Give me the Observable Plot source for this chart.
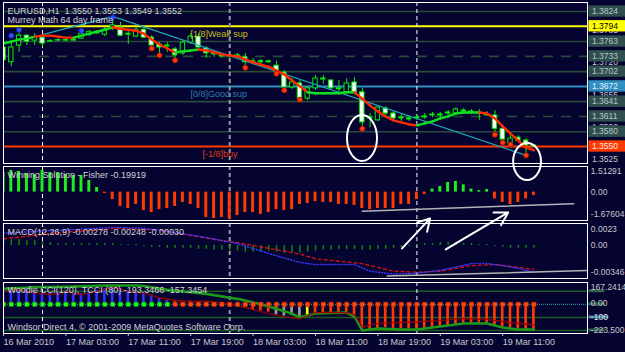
<!DOCTYPE html>
<html><head><meta charset="utf-8">
<script src="https://cdn.jsdelivr.net/npm/d3@7"></script>
<script src="https://cdn.jsdelivr.net/npm/@observablehq/plot@0.6"></script>
<style>
html,body{margin:0;padding:0;background:#050330;}
#chart{position:relative;width:625px;height:352px;background:#050330;overflow:hidden;}
</style></head><body><div id="chart"></div>
<script>
// ---------- DATA ----------
const timeTickIdx = [0,8,16,24,32,40,48,56,64];
const timeLabels = ["16 Mar 2010","17 Mar 03:00","17 Mar 11:00","17 Mar 19:00","18 Mar 03:00","18 Mar 11:00","18 Mar 19:00","19 Mar 03:00","19 Mar 11:00"];

const open = [1.3751,1.3721,1.3755,1.3775,1.3765,1.3771,1.3763,1.3765,1.3766,1.3765,
1.3769,1.3777,1.3783,1.3777,1.3789,1.3792,1.3777,1.3773,1.3787,1.3771,
1.3757,1.3753,1.3747,1.3739,1.3761,1.3773,1.3749,1.3739,1.3735,1.3733,
1.3735,1.3731,1.3721,1.3723,1.3721,1.3714,1.3700,1.3670,1.3678,1.3647,
1.3668,1.3688,1.3684,1.3668,1.3660,1.3680,1.3660,1.3609,1.3603,1.3627,
1.3617,1.3607,1.3607,1.3609,1.3609,1.3613,1.3613,1.3617,1.3617,1.3623,
1.3621,1.3619,1.3615,1.3613,1.3586,1.3556,1.3568,1.3562,1.3550];
const high = [1.3755,1.3765,1.3781,1.3777,1.3779,1.3775,1.3767,1.3769,1.3769,1.3769,
1.3783,1.3785,1.3785,1.3792,1.3806,1.3802,1.3785,1.3792,1.3792,1.3775,
1.3761,1.3761,1.3751,1.3765,1.3779,1.3779,1.3753,1.3743,1.3739,1.3737,
1.3739,1.3739,1.3729,1.3727,1.3725,1.3723,1.3704,1.3688,1.3684,1.3672,
1.3694,1.3694,1.3686,1.3684,1.3688,1.3690,1.3668,1.3617,1.3633,1.3631,
1.3621,1.3615,1.3613,1.3613,1.3617,1.3619,1.3619,1.3623,1.3629,1.3627,
1.3625,1.3625,1.3621,1.3623,1.3593,1.3572,1.3572,1.3566,1.3553];
const low = [1.3721,1.3712,1.3741,1.3755,1.3755,1.3751,1.3761,1.3763,1.3763,1.3763,
1.3767,1.3773,1.3777,1.3773,1.3785,1.3773,1.3757,1.3771,1.3769,1.3751,
1.3737,1.3741,1.3727,1.3735,1.3757,1.3749,1.3729,1.3731,1.3729,1.3729,
1.3731,1.3712,1.3716,1.3716,1.3718,1.3700,1.3666,1.3666,1.3645,1.3643,
1.3664,1.3676,1.3666,1.3660,1.3658,1.3655,1.3588,1.3588,1.3601,1.3613,
1.3603,1.3601,1.3601,1.3603,1.3605,1.3609,1.3609,1.3613,1.3613,1.3617,
1.3615,1.3603,1.3611,1.3578,1.3560,1.3554,1.3558,1.3536,1.3549];
const close = [1.3725,1.3751,1.3775,1.3763,1.3771,1.3759,1.3764,1.3766,1.3765,1.3767,
1.3779,1.3783,1.3780,1.3787,1.3796,1.3775,1.3779,1.3787,1.3771,1.3755,
1.3751,1.3755,1.3735,1.3761,1.3773,1.3751,1.3739,1.3737,1.3733,1.3735,
1.3733,1.3721,1.3723,1.3721,1.3723,1.3702,1.3670,1.3680,1.3647,1.3668,
1.3688,1.3686,1.3668,1.3666,1.3678,1.3658,1.3599,1.3607,1.3629,1.3617,
1.3607,1.3609,1.3605,1.3607,1.3611,1.3615,1.3615,1.3619,1.3625,1.3621,
1.3619,1.3617,1.3613,1.3586,1.3564,1.3566,1.3562,1.3552,1.3552];

const ma = [1.3759,1.3763,1.3767,1.3769,1.3773,1.3775,1.3775,1.3773,1.3771,1.3771,
1.3775,1.3779,1.3783,1.3787,1.3792,1.3789,1.3787,1.3785,1.3779,1.3767,
1.3757,1.3749,1.3741,1.3743,1.3745,1.3747,1.3745,1.3741,1.3737,1.3735,
1.3733,1.3727,1.3721,1.3716,1.3712,1.3704,1.3696,1.3684,1.3672,1.3660,
1.3658,1.3658,1.3658,1.3658,1.3660,1.3660,1.3647,1.3633,1.3621,1.3611,
1.3603,1.3599,1.3595,1.3593,1.3597,1.3601,1.3607,1.3611,1.3617,1.3619,
1.3619,1.3619,1.3617,1.3607,1.3591,1.3576,1.3562,1.3548,1.3542];
const maTrend = "ggggg"+"rrrrr"+"ggggg"+"rrrrrrrr"+"ggg"+"rrrrrrrrrrrrrr"+"gggggg"+"rrrrrrrr"+"gggggggg"+"rrrrrrr";

const downFractalIdx = [19,20,22,31,35,36,38,46,63,64,65,67];
const downFractalPrice = [1.3749,1.3735,1.3725,1.3710,1.3698,1.3664,1.3645,1.3586,1.3574,1.3558,1.3554,1.3532];
const upFractalIdx = [1,2,10,14];
const upFractalPrice = [1.3775,1.3787,1.3785,1.3812];

const zigIdx = [5,14,67];
const zigPrice = [1.3777,1.3814,1.3532];

const murreyLevels = [1.3824,1.3794,1.3763,1.3733,1.3702,1.3672,1.3641,1.3611,1.3580,1.3550];
const murreyKind   = ["solid","yellow","solid","dash","solid","blue","solid","dash","solid","red"];
const priceTicks = [1.3785,1.3720,1.3655,1.3590,1.3525];

const fisher = [1.16,1.28,1.22,1.10,1.04,1.28,1.16,1.16,1.04,0.98,
0.98,0.69,0.27,-0.08,-0.44,-0.85,-0.97,-0.73,-1.09,-1.21,
-1.03,-0.97,-0.85,-0.61,-0.73,-0.97,-1.50,-1.56,-1.50,-1.59,
-1.38,-1.21,-1.21,-1.32,-1.21,-1.03,-1.09,-1.03,-0.73,-0.67,
-0.56,-0.61,-0.61,-0.73,-0.73,-0.79,-0.97,-1.03,-0.97,-0.97,
-0.97,-0.73,-0.73,-0.44,-0.14,0.18,0.33,0.57,0.63,0.43,
0.18,0.09,0.15,-0.40,-0.61,-0.73,-0.61,-0.40,-0.20];
const fisherLineIdx = [46.0,73.1];
const fisherLineVal = [-1.13,-0.69];

const macdHist = [.0006,.0006,.0006,.0005,.0005,.0004,.0003,.0002,.0002,.0002,
.0002,.0002,.0002,.0002,.0002,.0001,.0001,.0001,-.0001,-.0002,
-.0002,-.0003,-.0003,-.0003,-.0003,-.0004,-.0004,-.0005,-.0005,-.0006,
-.0006,-.0007,-.0007,-.0007,-.0006,-.0007,-.0008,-.0008,-.0008,-.0007,
-.0006,-.0005,-.0005,-.0004,-.0004,-.0004,-.0005,-.0005,-.0004,-.0004,
-.0003,-.0002,-.0001,.0001,.0002,.0002,.0003,.0003,.0003,.0002,
.0002,.0001,.0001,-.0001,-.0002,-.0003,-.0003,-.0003,-.0003];
const macdMainIdx = [0,5,10,14,18,22,26,30,34,38,40,45,47,50,53,56,60,62,64,66,68];
const macdMainVal = [0.0013,0.0015,0.0017,0.0019,0.0018,0.00136,0.00084,0.0002,-0.00084,-0.00178,-0.0020,-0.0020,-0.0027,-0.0030,-0.0029,-0.0026,-0.0019,-0.0019,-0.0021,-0.0024,-0.0028];
const macdSigIdx = [0,8,15,20,24,28,30,34,38,40,46,50,53,56,60,63,68];
const macdSigVal = [0.0007,0.0014,0.0018,0.0016,0.00105,0.0005,0.0003,-0.0003,-0.0009,-0.0014,-0.0019,-0.0027,-0.0028,-0.0027,-0.0021,-0.0020,-0.0025];
const macdLineIdx = [49.2,74.87];
const macdLineVal = [-0.00321,-0.00262];
const arrowFrom = [[51.1,-0.00031],[56.7,-0.00042]];
const arrowTo   = [[54.7,0.00283],[64.7,0.00346]];

const cciHist = [113,113,120,120,95,88,83,95,95,88,83,95,106,120,132,120,106,95,88,70,45,
30,20,15,25,10,10,5,-10,-15,-20,-30,-40,-50,-60,
-80,-90,-85,-95,-90,-75,-75,-75,-75,-75,-90,
-190,-195,-185,-180,-185,-190,-190,-190,-185,-180,-172,-165,-158,-150,-145,-150,-158,-165,-172,-180,-185,-193,-193];
const cciState = "b".repeat(22)+"r".repeat(13)+"gggg"+"y"+"r".repeat(29);
const cciGreenIdx = [0,4,9,13,17,18,21,24,26,29,30,33,35,37,38,40,44,45,46,48,51,53,56,59,62,64,66,68];
const cciGreenVal = [119,131,136,144,144,140,111,93,80,50,42,0,-34,-73,-99,-70,-63,-93,-201,-185,-193,-193,-170,-147,-147,-178,-193,-193];
const cciRedIdx = [0,2,4,6,8,10,12,14,16,18,20,22,24,26,28,30,32,34,36,38,40,44,45,46,48,52,56,59,62,65,68];
const cciRedVal = [100,115,90,75,95,75,100,130,100,85,50,30,20,25,10,-10,-40,-70,-95,-110,-63,-63,-80,-175,-145,-137,-124,-109,-116,-140,-157];
const cciLevels = [100,-100,-200];

// ---------- STYLE ----------
const BG = "#050330", FONT = "Liberation Sans, Arial, sans-serif";
const LIME = "#00f000", TXT = "#d4d4d4", AX = "#c8c8c8";
const XD = [0, 74.87];
const chart = document.getElementById("chart");

function mk(top, height, mt, mb, yDomain, marks) {
  const svg = Plot.plot({
    width: 625, height, marginLeft: 3, marginRight: 38, marginTop: mt, marginBottom: mb,
    x: {domain: XD, axis: null}, y: {domain: yDomain, axis: null},
    color: {type: "identity"},
    style: {background: "transparent", overflow: "visible", fontFamily: FONT, fontSize: "9px"},
    marks
  });
  svg.style.position = "absolute"; svg.style.left = "0px"; svg.style.top = top + "px";
  chart.appendChild(svg);
  return svg;
}
const seps = () => [
  Plot.ruleX([5,53], {x: d => d, stroke: "#ffffff", strokeDasharray: "4,3"}),
  Plot.ruleX([29], {x: d => d, stroke: "#9a9a9a", strokeWidth: 2, strokeDasharray: "4,3"})
];
const title = (t, dy) => Plot.text([t], {frameAnchor: "top-left", dx: 4, dy, text: d => d, textAnchor: "start", lineAnchor: "middle", fill: TXT, fontSize: 9});
const rlab = (label, value, dy) => Plot.text([label], {x: () => 75.3, y: () => value, text: d => d, dy, textAnchor: "start", lineAnchor: "middle", fill: AX, fontSize: 8.5});

// ---------- MAIN PANEL ----------
const idx = open.map((_, i) => i);
const candles = idx.map(i => ({i, o: open[i], h: high[i], l: low[i], c: close[i]}));
const maSegs = idx.slice(1).map(i => ({a: i-1, b: i, ya: ma[i-1], yb: ma[i], t: maTrend[i]}));
const mLines = murreyLevels.map((v, k) => ({v, k: murreyKind[k]}));
const lineColor = {solid: "#2b4a3c", dash: "#2b4a3c", yellow: "#ffff00", blue: "#2f8fc0", red: "#ff3a00"};
const boxFill = {solid: "#2f4f4f", dash: "#2f4f4f", yellow: "#ffff00", blue: "#2f8fc0", red: "#ff3a00"};
const boxText = {solid: "#b8c6c6", dash: "#b8c6c6", yellow: "#000000", blue: "#e6f2ff", red: "#ffe8e0"};

const mainSvg = mk(0, 166, 2, 3, [1.35155, 1.38423], [
  Plot.ruleY(mLines.filter(d => d.k === "solid"), {y: "v", stroke: lineColor.solid, strokeWidth: 1.6}),
  Plot.ruleY(mLines.filter(d => d.k === "dash"), {y: "v", stroke: lineColor.dash, strokeWidth: 1.6, strokeDasharray: "10,8"}),
  Plot.ruleY(mLines.filter(d => d.k !== "solid" && d.k !== "dash"), {y: "v", stroke: d => lineColor[d.k], strokeWidth: 2}),
  ...seps(),
  Plot.ruleX(candles, {x: "i", y1: "l", y2: "h", stroke: LIME, strokeWidth: 1, clip: true}),
  Plot.rect(candles, {x1: d => d.i - 0.28, x2: d => d.i + 0.28, y1: "o", y2: "c", fill: d => d.c < d.o ? "#ffffff" : BG, stroke: LIME, strokeWidth: 1, clip: true}),
  Plot.line(zigIdx.map((x, k) => ({x, y: zigPrice[k]})), {x: "x", y: "y", stroke: "#20a8b8", strokeWidth: 1.2}),
  Plot.link(maSegs, {x1: "a", y1: "ya", x2: "b", y2: "yb", stroke: d => d.t === "g" ? "#10e020" : "#ff2a00", strokeWidth: 2.4, strokeLinecap: "round", clip: true}),
  Plot.dot(downFractalIdx.map((x, k) => ({x, y: downFractalPrice[k]})), {x: "x", y: "y", r: 2.6, fill: "#ff3a10", stroke: "#a01000", strokeWidth: 0.8}),
  Plot.dot(upFractalIdx.map((x, k) => ({x, y: upFractalPrice[k]})), {x: "x", y: "y", r: 2.6, fill: "#3050ff", stroke: "#1020a0", strokeWidth: 0.8}),
  Plot.text(["[1/8]Weak sup"], {x: () => 23.97, y: () => 1.3779, text: d => d, textAnchor: "start", lineAnchor: "middle", fill: "#c8c020", fontSize: 9}),
  Plot.text(["[0/8]Good sup"], {x: () => 23.97, y: () => 1.3656, text: d => d, textAnchor: "start", lineAnchor: "middle", fill: "#2d7fb0", fontSize: 9}),
  Plot.text(["[-1/8]buy"], {x: () => 25.5, y: () => 1.3534, text: d => d, textAnchor: "start", lineAnchor: "middle", fill: "#e04010", fontSize: 9}),
  title("EURUSD,H1  1.3550 1.3553 1.3549 1.3552", 9),
  title("Murrey Math 64 day frame", 18),
  Plot.frame({stroke: "#ffffff"}),
  // right price axis
  Plot.text(priceTicks, {x: () => 75.45, y: d => d, text: d => d.toFixed(4), textAnchor: "start", lineAnchor: "middle", fill: AX, fontSize: 8.5}),
  Plot.rect(mLines, {x1: () => 75.05, x2: () => 80, y1: d => d.v + 0.00115, y2: d => d.v - 0.00115, fill: d => boxFill[d.k]}),
  Plot.text(mLines, {x: () => 75.45, y: "v", text: d => d.v.toFixed(4), textAnchor: "start", lineAnchor: "middle", fill: d => boxText[d.k], fontSize: 8.5})
]);

// ellipse annotations drawn with the main panel's scales
const ellipseBoxes = [{x1: 44.1, x2: 47.95, y1: 1.36128, y2: 1.35195}, {x1: 65.4, x2: 68.97, y1: 1.35560, y2: 1.34809}];
{
  const sx = mainSvg.scale("x"), sy = mainSvg.scale("y");
  const g = d3.select(mainSvg).append("g");
  ellipseBoxes.forEach(e => {
    const ax = sx.apply(e.x1), bx = sx.apply(e.x2), ay = sy.apply(e.y1), by = sy.apply(e.y2);
    g.append("ellipse").attr("cx", (ax + bx) / 2).attr("cy", (ay + by) / 2)
      .attr("rx", Math.abs(bx - ax) / 2).attr("ry", Math.abs(by - ay) / 2)
      .attr("fill", "none").attr("stroke", "#ffffff").attr("stroke-width", 2);
  });
}

// ---------- FISHER PANEL ----------
mk(164, 58, 2, 2, [-1.67604, 1.51291], [
  ...seps(),
  Plot.rect(fisher.map((v, i) => ({i, v})), {x1: d => d.i - 0.19, x2: d => d.i + 0.19, y1: () => 0, y2: "v", fill: d => d.v >= 0 ? "#1ef01e" : "#ff3a00", clip: true}),
  Plot.line(fisherLineIdx.map((x, k) => ({x, y: fisherLineVal[k]})), {x: "x", y: "y", stroke: "#b4b4b4", strokeWidth: 1.5}),
  title("Winning Solution - Fisher -0.19919", 9),
  Plot.frame({stroke: "#ffffff"}),
  rlab("1.51291", 1.51291, 5), rlab("0.00", 0, 0), rlab("-1.67604", -1.67604, -6)
]);

// ---------- MACD PANEL ----------
mk(221, 59, 2, 2, [-0.00346, 0.0023], [
  ...seps(),
  Plot.ruleX(macdHist.map((v, i) => ({i, v})), {x: "i", y1: () => 0, y2: "v", stroke: "#0c8a0c", strokeWidth: 1.5, clip: true}),
  Plot.line(macdSigIdx.map((x, k) => ({x, y: macdSigVal[k]})), {x: "x", y: "y", stroke: "#d01010", strokeWidth: 1.4, strokeDasharray: "3,3"}),
  Plot.line(macdMainIdx.map((x, k) => ({x, y: macdMainVal[k]})), {x: "x", y: "y", stroke: "#3a3aff", strokeWidth: 1.4, strokeDasharray: "1,2"}),
  Plot.line(macdLineIdx.map((x, k) => ({x, y: macdLineVal[k]})), {x: "x", y: "y", stroke: "#b4b4b4", strokeWidth: 1.5}),
  title("MACD(12,26,9) -0.00278 -0.00248 -0.00030", 9),
  Plot.frame({stroke: "#ffffff"}),
  rlab("0.0023", 0.0023, 6), rlab("0.00", 0, 0), rlab("-0.00346", -0.00346, -6),
  Plot.arrow(arrowFrom.map((a, k) => ({x1: a[0], y1: a[1], x2: arrowTo[k][0], y2: arrowTo[k][1]})), {x1: "x1", y1: "y1", x2: "x2", y2: "y2", stroke: "#ffffff", strokeWidth: 2, headLength: 11})
]);

// ---------- CCI PANEL ----------
const cciColor = {b: "#3030ff", r: "#ff3a00", g: "#a0a0a0", y: "#ffff00"};
mk(280, 72, 2, 19, [-223.5, 167.2414], [
  Plot.ruleY(cciLevels, {y: d => d, stroke: "#1c5a24", strokeWidth: 1.5}),
  Plot.ruleY([0], {y: d => d, stroke: "#2aa8b0", strokeDasharray: "1,1"}),
  ...seps(),
  Plot.rect(cciHist.map((v, i) => ({i, v})), {x1: d => d.i - 0.17, x2: d => d.i + 0.17, y1: () => 0, y2: "v", fill: d => cciColor[cciState[d.i]], clip: true}),
  Plot.line(cciGreenIdx.map((x, k) => ({x, y: cciGreenVal[k]})), {x: "x", y: "y", stroke: "#1a9a1a", strokeWidth: 2.6, clip: true}),
  Plot.line(cciRedIdx.map((x, k) => ({x, y: cciRedVal[k]})), {x: "x", y: "y", stroke: "#a00000", strokeWidth: 1.2, clip: true}),
  Plot.dot(idx, {x: d => d, y: () => 0, symbol: "square", r: 2.5, fill: d => d < 22 ? "#20ff20" : "#ff4a10", stroke: d => d < 22 ? "#008000" : "#a02000", strokeWidth: 0.6, clip: true}),
  title("Woodie CCI(120), TCCI (80) -193.3466 -157.3454", 8),
  Plot.text(["Windsor Direct 4, \u00a9 2001-2009 MetaQuotes Software Corp."], {frameAnchor: "bottom-left", dx: 4, dy: -6, text: d => d, textAnchor: "start", lineAnchor: "middle", fill: TXT, fontSize: 9}),
  Plot.frame({stroke: "#ffffff"}),
  Plot.rect([100, 0, -200], {x1: () => 75.05, x2: () => 77.1, y1: d => d + 11, y2: d => d - 11, fill: "#2f6650"}),
  Plot.rect([-100], {x1: () => 75.05, x2: () => 77.6, y1: d => d + 11, y2: d => d - 11, fill: "#4f84a8"}),
  Plot.text(["-100"], {x: () => 75.3, y: () => -100, text: d => d, textAnchor: "start", lineAnchor: "middle", fill: "#dfe8f0", fontSize: 8.5}),
  rlab("167.2414", 167.2414, 5), rlab("0.00", 0, -1), rlab("-223.500", -223.5, -3),
  Plot.axisX(timeTickIdx, {anchor: "bottom", tickFormat: d => timeLabels[timeTickIdx.indexOf(d)], textAnchor: "start", tickSize: 3, tickPadding: 2, fill: AX, stroke: AX, fontSize: 9, label: null})
]);
</script></body></html>
